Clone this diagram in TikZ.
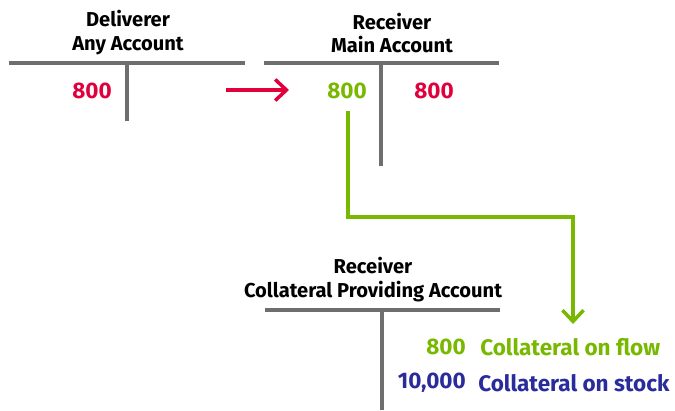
\documentclass[tikz,border=0pt]{standalone}
\usepackage{fontspec}
\setmainfont{Fira Sans}
\usetikzlibrary{arrows.meta}
\definecolor{acred}{HTML}{E2003C}
\definecolor{acgreen}{HTML}{78B800}
\definecolor{acblue}{HTML}{2A2C9C}
\definecolor{acgray}{HTML}{6E6E6E}
\begin{document}
\begin{tikzpicture}[x=.025cm,y=-.025cm,>={Straight Barb[length=8pt,width=15pt]},line join=miter,
	font=\bfseries\fontsize{14.3}{17}\selectfont,
	tbar/.style={draw=acgray,line width=2.5pt},
	flow/.style={line width=2.5pt,->},
	title/.style={align=center,inner sep=0pt},
	amount/.style={inner sep=0pt,font=\bfseries\fontsize{16}{18}\selectfont}]
		\useasboundingbox (0,0) rectangle (675,410);
		% T accounts
		\draw[tbar] (9,63) -- (245,63) (127,63) -- (127,121);
		\draw[tbar] (264,63) -- (499,63) (381,63) -- (381,166);
		\draw[tbar] (265,310) -- (500,310) (382,310) -- (382,410);
		\node[title] (deliverer) at (128,33) {Deliverer\\Any Account};
		\node[title] (receiver) at (392,33) {Receiver\\Main Account};
		\node[title] (collateral) at (373,280) {Receiver\\Collateral Providing Account};
		% amounts
		\node[amount,text=acred] (debit) at (92,91) {800};
		\node[amount,text=acgreen] (credit) at (347,91) {800};
		\node[amount,text=acred] (credit2) at (434,91) {800};
		\node[amount,text=acgreen,anchor=east] (flow) at (466,347) {800};
		\node[amount,text=acgreen,anchor=west] (flowtext) at (480,347) {Collateral on flow};
		\node[amount,text=acblue,anchor=east] (stock) at (466,383) {10,000};
		\node[amount,text=acblue,anchor=west] (stocktext) at (478,383) {Collateral on stock};
		\coordinate (redstart) at (226,90);
		\coordinate (redend) at (289,90);
		\coordinate (greenstart) at (348,111);
		\coordinate (greenturn) at (573,217);
		\coordinate (greenend) at (573,324);
		% connectors
		\draw[flow,acred] (redstart) -- (redend);
		\draw[flow,acgreen] (greenstart) |- (greenturn) -- (greenend);
	\end{tikzpicture}
\end{document}
